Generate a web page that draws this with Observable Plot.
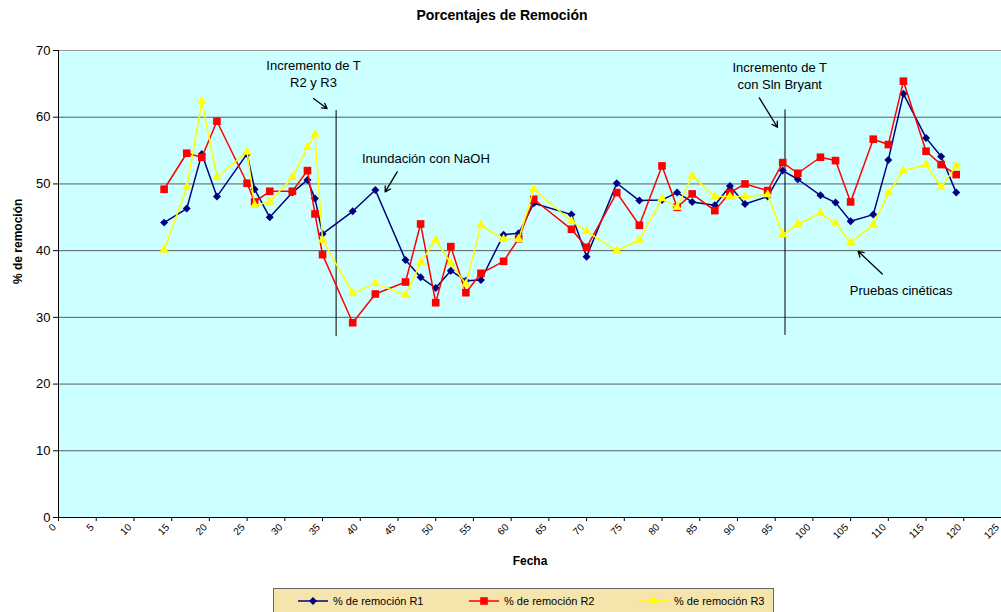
<!DOCTYPE html>
<html>
<head>
<meta charset="utf-8">
<script src="https://cdn.jsdelivr.net/npm/d3@7"></script>
<script src="https://cdn.jsdelivr.net/npm/@observablehq/plot@0.6"></script>
<style>
  body { margin: 0; background: #fff; font-family: "Liberation Sans", Arial, sans-serif; }
  #title { height: 30px; line-height: 30px; text-align: center; font-weight: bold; font-size: 14px; padding-left: 3px; }
  #chart { height: 545px; }
  #legend { position: absolute; left: 273px; top: 588px; width: 501px; height: 28px; background: #F5E4AC; border: 1px solid #666; box-sizing: border-box; font-size: 11px; }
  .item { position: absolute; top: 5px; display: flex; align-items: center; }
  .item span { margin-left: 5px; }
</style>
</head>
<body>
<div id="title">Porcentajes de Remoción</div>
<div id="chart"></div>
<div id="legend"></div>
<script>
// ---- data ----
const days = [14,17,19,21,25,26,28,31,33,34,35,39,42,46,48,50,52,54,56,59,61,63,68,70,74,77,80,82,84,87,89,91,94,96,98,101,103,105,108,110,112,115,117,119];
const r1 = [44.2,46.3,54.5,48.1,54.5,49.2,45.0,48.7,50.6,47.8,42.5,45.9,49.1,38.6,36.0,34.4,37.0,35.5,35.6,42.4,42.6,47.1,45.4,39.1,50.1,47.5,47.6,48.7,47.3,46.8,49.7,47.0,48.1,52.0,50.7,48.3,47.2,44.4,45.4,53.6,63.5,56.9,54.1,48.7];
const r2 = [49.2,54.6,54.0,59.4,50.1,47.3,48.9,48.9,52.0,45.5,39.4,29.2,33.5,35.3,44.0,32.2,40.6,33.7,36.6,38.4,41.8,47.7,43.2,40.5,48.7,43.8,52.7,46.5,48.5,46.0,48.7,50.0,49.0,53.2,51.6,54.0,53.5,47.3,56.7,55.9,65.4,54.9,52.9,51.4];
const r3 = [40.1,49.5,62.4,51.0,54.8,46.8,47.3,51.0,55.5,57.4,41.6,33.6,35.1,33.3,38.2,41.6,38.1,35.0,43.8,41.7,41.7,49.2,44.4,42.9,40.0,41.6,47.8,46.5,51.2,48.1,48.1,48.1,48.4,42.4,44.0,45.6,44.1,41.2,43.9,48.6,52.0,52.9,49.5,52.7];
const seriesNames = ["% de remoción R1", "% de remoción R2", "% de remoción R3"];
const xTicks = d3.range(0, 126, 5);
const yTicks = [0,10,20,30,40,50,60,70];
const gridTicks = [10,20,30,40,50,60];

// annotations (data coordinates)
const vlines = [{x: 36.8, y1: 27.1, y2: 61.0}, {x: 96.3, y1: 27.3, y2: 61.1}];
const arrows = [
  {x1: 33.8, y1: 62.8, x2: 35.6, y2: 61.3},
  {x1: 44.9, y1: 51.8, x2: 43.3, y2: 48.8},
  {x1: 92.9, y1: 62.9, x2: 95.3, y2: 58.5},
  {x1: 109.2, y1: 36.5, x2: 106.0, y2: 39.9}
];
const notes = [
  {x: 33.8, y: 66.6, text: "Incremento de T\nR2 y R3"},
  {x: 95.6, y: 66.3, text: "Incremento de T\ncon Sln Bryant"},
  {x: 48.7, y: 54.0, text: "Inundación con NaOH"},
  {x: 111.7, y: 34.1, text: "Pruebas cinéticas"}
];

// ---- styles ----
const styles = [
  {color: "#000080", symbol: "diamond2", r: 3.6},
  {color: "#FF0000", symbol: "square", r: 4.3},
  {color: "#FFFF00", symbol: "triangle", r: 3.5}
];
const seriesData = [r1, r2, r3].map(vals => days.map((d, i) => ({day: d, value: vals[i]})));

const seriesMarks = seriesData.flatMap((data, i) => [
  Plot.line(data, {x: "day", y: "value", stroke: styles[i].color, strokeWidth: 1.5}),
  Plot.dot(data, {x: "day", y: "value", symbol: styles[i].symbol, r: styles[i].r, fill: styles[i].color, stroke: "none"})
]);

const chart = Plot.plot({
  width: 1001,
  height: 545,
  marginTop: 20,
  marginBottom: 58,
  marginLeft: 58,
  marginRight: 0,
  style: {fontFamily: "'Liberation Sans', Arial, sans-serif", fontSize: "12px", color: "#000", background: "transparent", overflow: "visible"},
  x: {domain: [0, 125]},
  y: {domain: [0, 70]},
  marks: [
    Plot.frame({fill: "#CCFFFF", stroke: "none"}),
    Plot.gridY(gridTicks, {stroke: "#55605f", strokeOpacity: 1}),
    Plot.ruleY([70], {stroke: "#999"}),
    Plot.axisY({ticks: yTicks, tickSize: 5, tickPadding: 3, label: null, fontSize: 13}),
    Plot.axisX({ticks: xTicks, tickSize: 4, tickFormat: () => "", label: null}),
    Plot.axisX({ticks: xTicks, tickSize: 0, tickPadding: 6, tickRotate: -45, label: null, fontSize: 10, dx: -4, dy: 2}),
    Plot.ruleX([0], {stroke: "#000"}),
    Plot.ruleY([0], {stroke: "#000"}),
    Plot.ruleX(vlines, {x: "x", y1: "y1", y2: "y2", stroke: "#000", strokeWidth: 1}),
    ...seriesMarks,
    Plot.arrow(arrows, {x1: "x1", y1: "y1", x2: "x2", y2: "y2", stroke: "#000", strokeWidth: 1.3, headLength: 7}),
    Plot.text(notes, {x: "x", y: "y", text: "text", fontSize: 13, lineHeight: 1.3, fill: "#000"}),
    Plot.text(["% de remoción"], {frameAnchor: "left", dx: -40, rotate: -90, fontWeight: "bold", fontSize: 12}),
    Plot.text(["Fecha"], {frameAnchor: "bottom", dy: 47, fontWeight: "bold", fontSize: 12})
  ]
});
document.getElementById("chart").appendChild(chart);

// legend
const legend = document.getElementById("legend");
const lefts = [24, 195, 365];
seriesNames.forEach((name, i) => {
  const st = styles[i];
  const item = document.createElement("div");
  item.className = "item";
  item.style.left = lefts[i] + "px";
  const sym = {diamond2: d3.symbolDiamond2, square: d3.symbolSquare, triangle: d3.symbolTriangle}[st.symbol];
  const path = d3.symbol(sym, Math.PI * st.r * st.r)();
  item.innerHTML = `<svg width="30" height="14"><line x1="0" x2="30" y1="7" y2="7" stroke="${st.color}" stroke-width="1.5"/><path transform="translate(15,7)" d="${path}" fill="${st.color}"/></svg><span>${name}</span>`;
  legend.appendChild(item);
});
</script>
</body>
</html>
